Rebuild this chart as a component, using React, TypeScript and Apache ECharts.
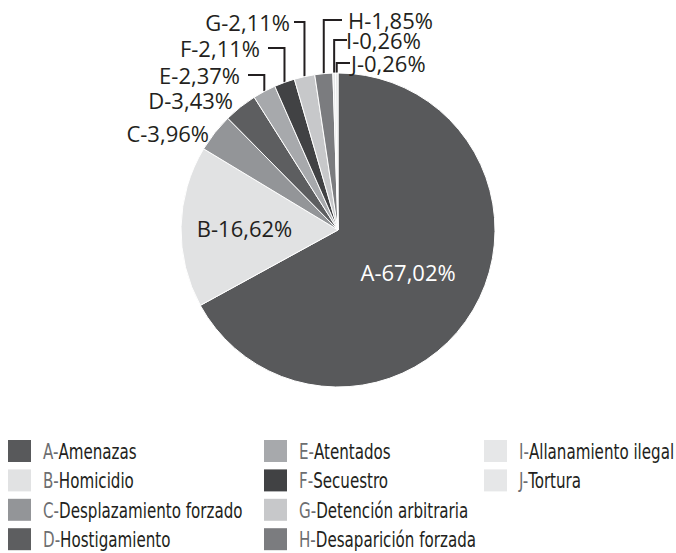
import React, { useEffect, useRef } from "react";
import * as echarts from "echarts";

const letters = ["A", "B", "C", "D", "E", "F", "G", "H", "I", "J"];
const categories = [
  "Amenazas",
  "Homicidio",
  "Desplazamiento forzado",
  "Hostigamiento",
  "Atentados",
  "Secuestro",
  "Detención arbitraria",
  "Desaparición forzada",
  "Allanamiento ilegal",
  "Tortura",
];
const values = [67.02, 16.62, 3.96, 3.43, 2.37, 2.11, 2.11, 1.85, 0.26, 0.26];
const colors = [
  "#58595b",
  "#e1e2e3",
  "#939598",
  "#5d5e60",
  "#a7a9ac",
  "#414244",
  "#c7c8ca",
  "#7b7c7f",
  "#e6e7e8",
  "#e6e7e8",
];

const names = letters.map((l, i) => `${l}-${categories[i]}`);
const fmt = (v: number) => v.toFixed(2).replace(".", ",") + "%";

// label placement (style only)
type Place = { y: number; x: number; align: "left" | "right"; lineX?: number };
const placement: Record<number, Place> = {
  2: { x: 209, y: 133, align: "right" },
  3: { x: 233, y: 100, align: "right" },
  4: { x: 240, y: 75, align: "right", lineX: 248 },
  5: { x: 260, y: 48, align: "right", lineX: 268 },
  6: { x: 290, y: 22, align: "right", lineX: 294 },
  7: { x: 348, y: 20, align: "left", lineX: 342 },
  8: { x: 346, y: 40, align: "left", lineX: 347 },
  9: { x: 351, y: 63, align: "left", lineX: 350 },
};

const CX = 338;
const CY = 230;
const R = 157;

// legend layout (style only)
const LEG_COL_X = [8, 264, 484];
const LEG_TOP = 440;
const LEG_ROW = 29.4;
const LEG_ROWS = 4;
const LEG_FONT = "'Liberation Sans Narrow', 'DejaVu Sans Condensed', sans-serif";

export default function App() {
  const ref = useRef<HTMLDivElement>(null);
  useEffect(() => {
    if (!ref.current) return;
    const chart = echarts.init(ref.current, null, { renderer: "svg" });
    const total = values.reduce((a, b) => a + b, 0);
    const edgePoint = (idx: number) => {
      let acc = 0;
      for (let i = 0; i < idx; i++) acc += values[i];
      const mid = acc + values[idx] / 2;
      const ang = ((90 - (mid / total) * 360) * Math.PI) / 180;
      return [CX + R * Math.cos(ang), CY - R * Math.sin(ang)];
    };

    const legendItems: any[] = [];
    names.forEach((n, i) => {
      const col = Math.floor(i / LEG_ROWS);
      const row = i % LEG_ROWS;
      const x = LEG_COL_X[col];
      const y = LEG_TOP + row * LEG_ROW;
      legendItems.push({
        type: "rect",
        shape: { x, y, width: 23, height: 22 },
        style: { fill: colors[i] },
        silent: true,
      });
      legendItems.push({
        type: "text",
        x: x + 35,
        y: y + 11,
        scaleX: 0.8,
        silent: true,
        style: {
          text: `{l|${letters[i]}-}{t|${categories[i]}}`,
          verticalAlign: "middle",
          align: "left",
          rich: {
            l: { fill: "#6d6e71", fontFamily: LEG_FONT, fontSize: 21 },
            t: { fill: "#231f20", fontFamily: LEG_FONT, fontSize: 21 },
          },
        },
      });
    });

    chart.setOption({
      animation: false,
      graphic: legendItems,
      series: [
        {
          type: "pie",
          center: [CX, CY],
          radius: R,
          startAngle: 90,
          clockwise: true,
          avoidLabelOverlap: false,
          itemStyle: { borderColor: "#ffffff", borderWidth: 1 },
          label: {
            fontFamily: "'Open Sans', sans-serif",
            fontSize: 22,
            lineHeight: 19,
            color: "#231f20",
            formatter: (p: any) => `${letters[p.dataIndex]}-${fmt(values[p.dataIndex])}`,
          },
          labelLine: { lineStyle: { color: "#231f20", width: 2 } },
          emphasis: { disabled: true },
          data: values.map((v, i) => ({
            name: names[i],
            value: v,
            itemStyle: { color: colors[i] },
            label: {
              position: i < 2 ? "inside" : "outside",
              color: i === 0 ? "#ffffff" : "#231f20",
            },
            labelLine: { show: i >= 4 },
          })),
          labelLayout: (params: any) => {
            const i = params.dataIndex;
            if (i === 1) return { dx: -12 };
            const p = placement[i];
            if (!p) return {};
            const res: any = { x: p.x, y: p.y, align: p.align, verticalAlign: "middle" };
            if (p.lineX !== undefined) {
              const [x0, y0] = edgePoint(i);
              res.labelLinePoints = [
                [x0, y0],
                [x0, p.y],
                [p.lineX, p.y],
              ];
            }
            return res;
          },
        },
      ],
    });
    return () => chart.dispose();
  }, []);
  return (
    <div
      ref={ref}
      style={{ position: "fixed", left: 0, top: 0, width: 676, height: 553, background: "#fff" }}
    />
  );
}
